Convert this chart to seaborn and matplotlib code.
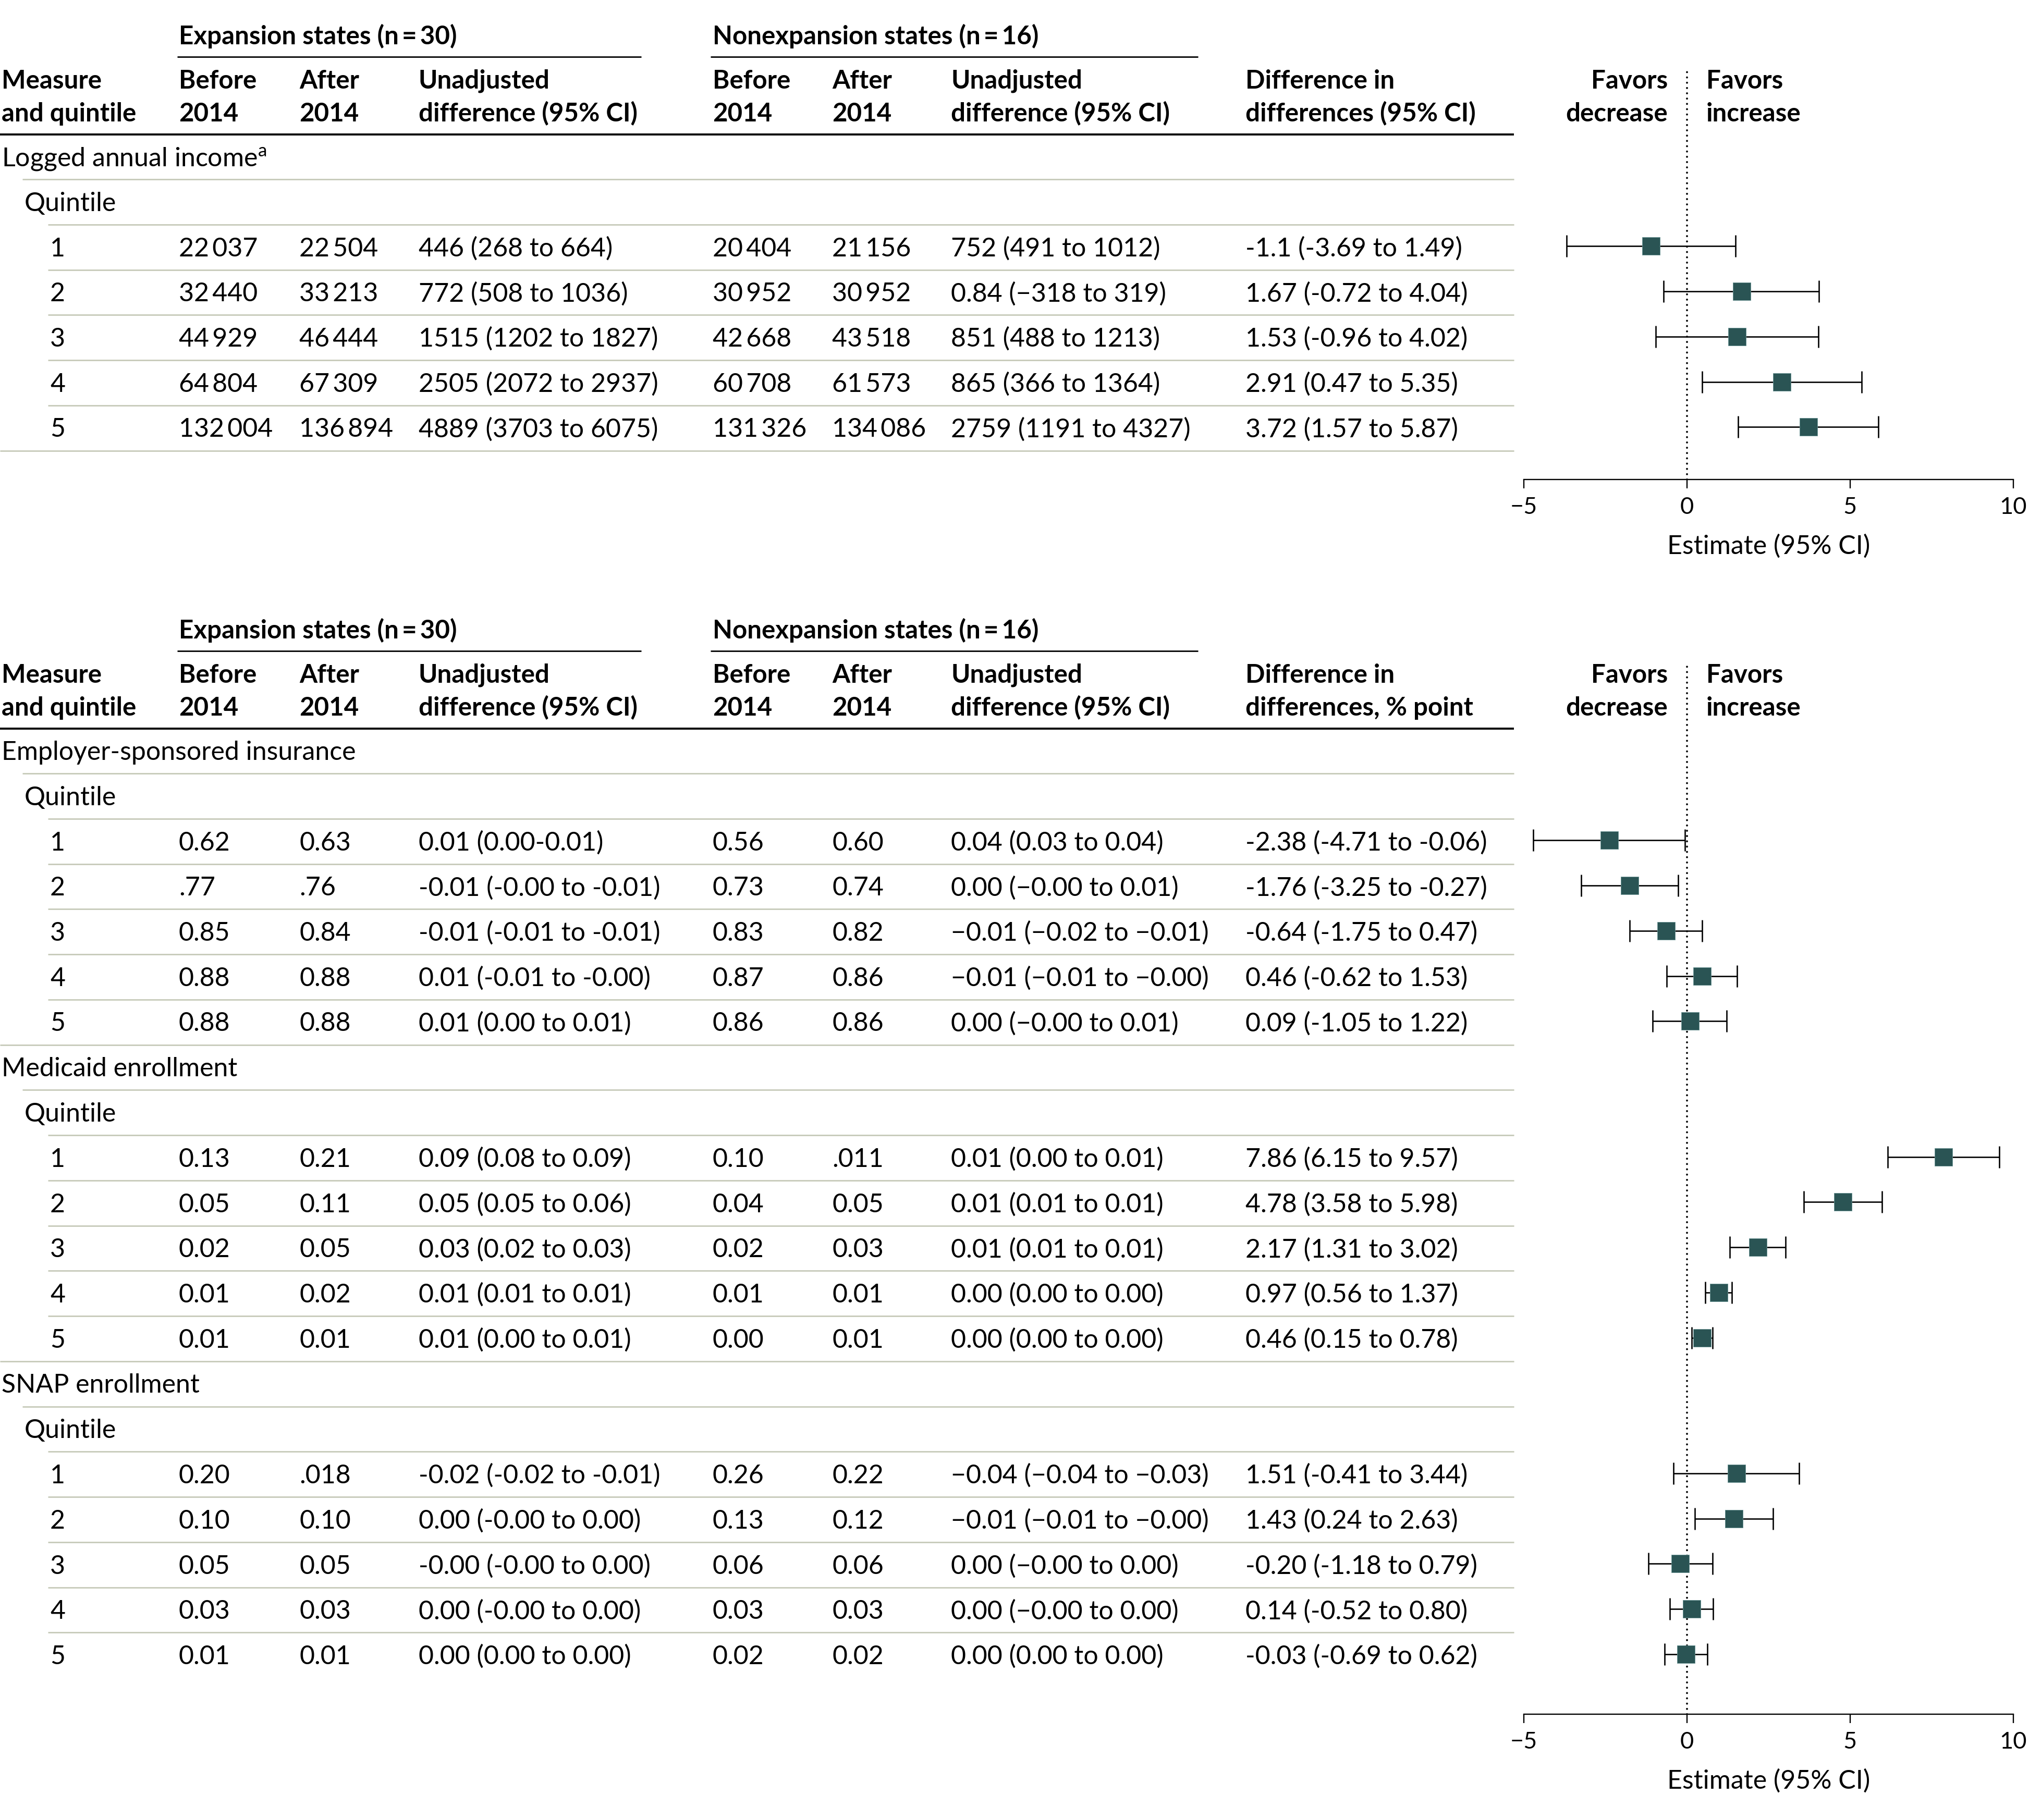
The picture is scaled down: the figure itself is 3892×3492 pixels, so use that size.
import numpy as np
import pandas as pd
import matplotlib
matplotlib.use("Agg")
import matplotlib.pyplot as plt
import seaborn as sns

sns.set_theme(style="white")
plt.rcParams["font.family"] = ["Lato", "DejaVu Sans"]
plt.rcParams["mathtext.fontset"] = "custom"
plt.rcParams["mathtext.rm"] = "Lato"
plt.rcParams["mathtext.it"] = "Lato:italic"
plt.rcParams["mathtext.bf"] = "Lato:bold"
plt.rcParams["axes.unicode_minus"] = True

TS = "\u2009"

# ---------------- DATA ----------------
quintiles = ["1", "2", "3", "4", "5"]

# Panel 1: Logged annual income
income_exp_before = [22037, 32440, 44929, 64804, 132004]
income_exp_after = [22504, 33213, 46444, 67309, 136894]
income_exp_diff = ["446 (268 to 664)", "772 (508 to 1036)", "1515 (1202 to 1827)",
                   "2505 (2072 to 2937)", "4889 (3703 to 6075)"]
income_non_before = [20404, 30952, 42668, 60708, 131326]
income_non_after = [21156, 30952, 43518, 61573, 134086]
income_non_diff = ["752 (491 to 1012)", "0.84 (\u2212318 to 319)", "851 (488 to 1213)",
                   "865 (366 to 1364)", "2759 (1191 to 4327)"]
income_did = ["-1.1 (-3.69 to 1.49)", "1.67 (-0.72 to 4.04)", "1.53 (-0.96 to 4.02)",
              "2.91 (0.47 to 5.35)", "3.72 (1.57 to 5.87)"]
income_est = [-1.1, 1.67, 1.53, 2.91, 3.72]
income_lo = [-3.69, -0.72, -0.96, 0.47, 1.57]
income_hi = [1.49, 4.04, 4.02, 5.35, 5.87]

# Panel 2: Employer-sponsored insurance
esi_exp_before = ["0.62", ".77", "0.85", "0.88", "0.88"]
esi_exp_after = ["0.63", ".76", "0.84", "0.88", "0.88"]
esi_exp_diff = ["0.01 (0.00-0.01)", "-0.01 (-0.00 to -0.01)", "-0.01 (-0.01 to -0.01)",
                "0.01 (-0.01 to -0.00)", "0.01 (0.00 to 0.01)"]
esi_non_before = ["0.56", "0.73", "0.83", "0.87", "0.86"]
esi_non_after = ["0.60", "0.74", "0.82", "0.86", "0.86"]
esi_non_diff = ["0.04 (0.03 to 0.04)", "0.00 (\u22120.00 to 0.01)", "\u22120.01 (\u22120.02 to \u22120.01)",
                "\u22120.01 (\u22120.01 to \u22120.00)", "0.00 (\u22120.00 to 0.01)"]
esi_did = ["-2.38 (-4.71 to -0.06)", "-1.76 (-3.25 to -0.27)", "-0.64 (-1.75 to 0.47)",
           "0.46 (-0.62 to 1.53)", "0.09 (-1.05 to 1.22)"]
esi_est = [-2.38, -1.76, -0.64, 0.46, 0.09]
esi_lo = [-4.71, -3.25, -1.75, -0.62, -1.05]
esi_hi = [-0.06, -0.27, 0.47, 1.53, 1.22]

# Medicaid enrollment
mcd_exp_before = ["0.13", "0.05", "0.02", "0.01", "0.01"]
mcd_exp_after = ["0.21", "0.11", "0.05", "0.02", "0.01"]
mcd_exp_diff = ["0.09 (0.08 to 0.09)", "0.05 (0.05 to 0.06)", "0.03 (0.02 to 0.03)",
                "0.01 (0.01 to 0.01)", "0.01 (0.00 to 0.01)"]
mcd_non_before = ["0.10", "0.04", "0.02", "0.01", "0.00"]
mcd_non_after = [".011", "0.05", "0.03", "0.01", "0.01"]
mcd_non_diff = ["0.01 (0.00 to 0.01)", "0.01 (0.01 to 0.01)", "0.01 (0.01 to 0.01)",
                "0.00 (0.00 to 0.00)", "0.00 (0.00 to 0.00)"]
mcd_did = ["7.86 (6.15 to 9.57)", "4.78 (3.58 to 5.98)", "2.17 (1.31 to 3.02)",
           "0.97 (0.56 to 1.37)", "0.46 (0.15 to 0.78)"]
mcd_est = [7.86, 4.78, 2.17, 0.97, 0.46]
mcd_lo = [6.15, 3.58, 1.31, 0.56, 0.15]
mcd_hi = [9.57, 5.98, 3.02, 1.37, 0.78]

# SNAP enrollment
snap_exp_before = ["0.20", "0.10", "0.05", "0.03", "0.01"]
snap_exp_after = [".018", "0.10", "0.05", "0.03", "0.01"]
snap_exp_diff = ["-0.02 (-0.02 to -0.01)", "0.00 (-0.00 to 0.00)", "-0.00 (-0.00 to 0.00)",
                 "0.00 (-0.00 to 0.00)", "0.00 (0.00 to 0.00)"]
snap_non_before = ["0.26", "0.13", "0.06", "0.03", "0.02"]
snap_non_after = ["0.22", "0.12", "0.06", "0.03", "0.02"]
snap_non_diff = ["\u22120.04 (\u22120.04 to \u22120.03)", "\u22120.01 (\u22120.01 to \u22120.00)",
                 "0.00 (\u22120.00 to 0.00)", "0.00 (\u22120.00 to 0.00)", "0.00 (0.00 to 0.00)"]
snap_did = ["1.51 (-0.41 to 3.44)", "1.43 (0.24 to 2.63)", "-0.20 (-1.18 to 0.79)",
            "0.14 (-0.52 to 0.80)", "-0.03 (-0.69 to 0.62)"]
snap_est = [1.51, 1.43, -0.20, 0.14, -0.03]
snap_lo = [-0.41, 0.24, -1.18, -0.52, -0.69]
snap_hi = [3.44, 2.63, 0.79, 0.80, 0.62]

x_ticks = [-5, 0, 5, 10]


def kfmt(v):
    return f"{v:,}".replace(",", TS)


# ---------------- LAYOUT ----------------
W, H = 3892, 3492
ROW_H = 86.75
FS = 36
FSB = 35.5
SEP = "#c6cab9"
COLX = {"eb": 343, "ea": 574, "ed": 803, "nb": 1367, "na": 1596, "nd": 1824, "did": 2389}
TABLE_R = 2904
X_LEFT, X_RIGHT = 2923, 3862
MARK = "#2a5454"

fig = plt.figure(figsize=(W / 100, H / 100), dpi=100)
bg = fig.add_axes([0, 0, 1, 1])
bg.set_xlim(0, W)
bg.set_ylim(H, 0)
bg.axis("off")


def T(x, y, s, bold=False, ha="left"):
    bg.text(x, y, s, fontsize=FSB if bold else FS, fontweight="bold" if bold else "normal",
            ha=ha, va="baseline", color="black")


def HL(x0, x1, y, lw=2.0, color=SEP):
    bg.plot([x0, x1], [y, y], color=color, lw=lw, solid_capstyle="butt")


def draw_panel(dy, groups, did_header, axis_y, final_line):
    T(COLX["eb"], 85 + dy, f"Expansion states (n{TS}={TS}30)", bold=True)
    HL(340, 1230, 109 + dy, 2.0, "black")
    T(COLX["nb"], 85 + dy, f"Nonexpansion states (n{TS}={TS}16)", bold=True)
    HL(1363, 2298, 109 + dy, 2.0, "black")
    heads = [(3, "Measure", "and quintile"), (COLX["eb"], "Before", "2014"),
             (COLX["ea"], "After", "2014"), (COLX["ed"], "Unadjusted", "difference (95% CI)"),
             (COLX["nb"], "Before", "2014"), (COLX["na"], "After", "2014"),
             (COLX["nd"], "Unadjusted", "difference (95% CI)"),
             (COLX["did"], did_header[0], did_header[1])]
    for x, l1, l2 in heads:
        T(x, 170 + dy, l1, bold=True)
        T(x, 233 + dy, l2, bold=True)
    HL(0, TABLE_R, 258 + dy, 2.8, "black")
    T(3199, 170 + dy, "Favors", bold=True, ha="right")
    T(3199, 233 + dy, "decrease", bold=True, ha="right")
    T(3273, 170 + dy, "Favors", bold=True)
    T(3273, 233 + dy, "increase", bold=True)

    recs = []
    r = 0
    for gi, g in enumerate(groups):
        b = 318 + dy + r * ROW_H
        T(3, b, g["name"])
        HL(43, TABLE_R, b + 26)
        r += 1
        b = 318 + dy + r * ROW_H
        T(47, b, "Quintile")
        HL(92, TABLE_R, b + 26)
        r += 1
        for qi in range(5):
            b = 318 + dy + r * ROW_H
            T(96, b, quintiles[qi])
            for key in ["eb", "ea", "ed", "nb", "na", "nd", "did"]:
                T(COLX[key], b, g[key][qi])
            if qi < 4:
                HL(92, TABLE_R, b + 26)
            elif not (gi == len(groups) - 1 and not final_line):
                HL(0, TABLE_R, b + 26)
            recs.append({"y": b - 19, "est": g["est"][qi], "lo": g["lo"][qi], "hi": g["hi"][qi]})
            r += 1

    df = pd.DataFrame(recs)
    top = 132 + dy
    axf = fig.add_axes([X_LEFT / W, 1 - axis_y / H, (X_RIGHT - X_LEFT) / W, (axis_y - top) / H])
    axf.set_facecolor("none")
    axf.set_xlim(-5, 10)
    axf.set_ylim(axis_y, top)
    axf.axvline(0, color="black", lw=2.8, linestyle=(0, (0.01, 2.6)),
                dash_capstyle="round", zorder=1)
    axf.errorbar(df["est"], df["y"], xerr=[df["est"] - df["lo"], df["hi"] - df["est"]],
                 fmt="none", ecolor="black", elinewidth=1.9, capsize=15, capthick=1.9, zorder=2)
    sns.scatterplot(data=df, x="est", y="y", marker="s", s=570, color=MARK,
                    edgecolor="#6a9494", linewidth=0.6, ax=axf, zorder=3, legend=False)
    axf.set_ylim(axis_y, top)
    axf.set_xlim(-5, 10)
    for sp in ["left", "right", "top"]:
        axf.spines[sp].set_visible(False)
    axf.spines["bottom"].set_linewidth(1.7)
    axf.spines["bottom"].set_color("black")
    axf.set_yticks([])
    axf.set_xticks(x_ticks)
    axf.tick_params(axis="x", direction="out", length=12, width=1.7, pad=12,
                    labelsize=32.5, colors="black", bottom=True)
    axf.set_xlabel("Estimate (95% CI)", fontsize=FS, labelpad=22, color="black")
    axf.set_ylabel("")
    axf.grid(False)


panel1_groups = [{
    "name": "Logged annual income$^{\\mathrm{a}}$",
    "eb": [kfmt(v) for v in income_exp_before], "ea": [kfmt(v) for v in income_exp_after],
    "ed": income_exp_diff, "nb": [kfmt(v) for v in income_non_before],
    "na": [kfmt(v) for v in income_non_after], "nd": income_non_diff, "did": income_did,
    "est": income_est, "lo": income_lo, "hi": income_hi}]

panel2_groups = [
    {"name": "Employer-sponsored insurance", "eb": esi_exp_before, "ea": esi_exp_after,
     "ed": esi_exp_diff, "nb": esi_non_before, "na": esi_non_after, "nd": esi_non_diff,
     "did": esi_did, "est": esi_est, "lo": esi_lo, "hi": esi_hi},
    {"name": "Medicaid enrollment", "eb": mcd_exp_before, "ea": mcd_exp_after,
     "ed": mcd_exp_diff, "nb": mcd_non_before, "na": mcd_non_after, "nd": mcd_non_diff,
     "did": mcd_did, "est": mcd_est, "lo": mcd_lo, "hi": mcd_hi},
    {"name": "SNAP enrollment", "eb": snap_exp_before, "ea": snap_exp_after,
     "ed": snap_exp_diff, "nb": snap_non_before, "na": snap_non_after, "nd": snap_non_diff,
     "did": snap_did, "est": snap_est, "lo": snap_lo, "hi": snap_hi},
]

draw_panel(0, panel1_groups, ("Difference in", "differences (95% CI)"), 920, True)
draw_panel(1140, panel2_groups, ("Difference in", "differences, % point"), 3289, False)

fig.savefig("out.png", dpi=100, facecolor="white")
